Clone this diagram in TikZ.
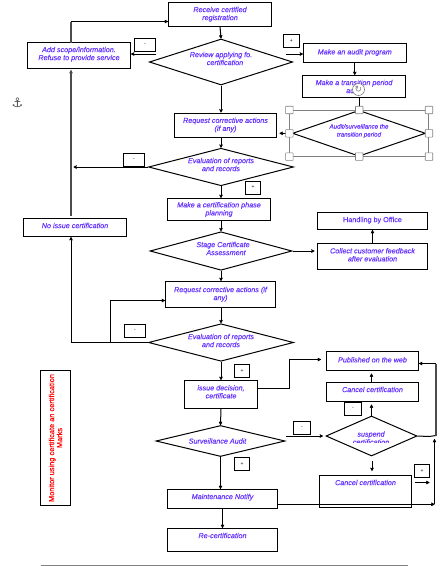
\documentclass[tikz,border=0pt]{standalone}
\usepackage{fontspec}
\setmainfont{Liberation Sans}
\newfontfamily\labelfont[RawFeature={embolden=0.15}]{Liberation Sans}
\newfontfamily\symfont{DejaVu Sans}
\usetikzlibrary{positioning,calc,arrows.meta,shapes.geometric}
\definecolor{bluetext}{HTML}{6633FF}

\begin{document}
\begin{tikzpicture}[->, >={Stealth[round,length=4.5pt,width=4.5pt]}, x=1pt, y=-1pt, line width=1pt,
  main/.style = {inner sep=0pt, align=center, text=bluetext, font=\labelfont\fontsize{7.2}{8}\selectfont\itshape},
  plain/.style = {font=\labelfont\fontsize{7.2}{8}\selectfont\upshape},
  box/.style = {main, rectangle, draw, fill=white},
  choice/.style = {main, diamond, aspect=4, draw, fill=white},
  lift/.style = {execute at end node={\rule[-#1]{0pt}{#1}}},
  sign/.style = {rectangle, draw, inner sep=0pt, minimum width=#1, minimum height=13pt, font=\fontsize{5}{5}\selectfont},
  handle/.style = {rectangle, rounded corners=.5pt, draw=gray, line width=.6pt, fill=white, inner sep=0pt, minimum size=7.5pt},
  trunk/.style = {draw=black!70, line width=1.2pt}]
\useasboundingbox (0,0) rectangle (443,566);

\node[box, minimum width=103, minimum height=23.5, lift=1.5pt] (recv) at (220,14.25) {Receive certified\\registration};
\node[choice, minimum width=128, minimum height=46, lift=7pt] (review) at (221,62) {Review applying fo.\\\hspace*{8pt}certification};
\node[box, minimum width=103, minimum height=26, lift=4pt] (addscope) at (79,55.5) {Add scope/information.\\Refuse to provide service};
\node[sign=21pt] (minusa) at (145,45) {-};
\node[sign=15.5pt] (plusa) at (291.25,41) {+};
\node[box, minimum width=103.5, minimum height=18.5, lift=2pt] (audit) at (354.75,52.75) {Make an audit program};
\node[box, minimum width=103, minimum height=22] (transition) at (354,86.5) {Make a transition period\\audit};
\node[choice, minimum width=132, minimum height=46, lift=6pt, font=\labelfont\fontsize{6.2}{8}\selectfont\itshape] (auditd) at (359,133.3) {Audit/surveillance the\\transition period};
\node[rectangle, draw=gray, line width=.6pt, minimum width=139, minimum height=46] (sel) at (359.2,133.3) {};
\node[box, minimum width=102, minimum height=24] (request) at (225.5,125) {Request corrective actions\\(if any)};
\node[choice, minimum width=145, minimum height=37.5, lift=5pt] (evala) at (221,167) {Evaluation of reports\\and records};
\node[sign=21pt] (minusb) at (134,160) {-};
\node[sign=15pt] (plusb) at (253,187.5) {+};
\node[box, minimum width=103, minimum height=22] (plan) at (219,209.5) {Make a certification phase\\planning};
\node[choice, minimum width=142, minimum height=38.5, lift=5pt] (stage) at (221,251) {\hspace*{4pt}Stage Certificate\\\hspace*{10pt}Assessment};
\node[box, minimum width=110, minimum height=17, lift=3pt, plain] (office) at (372.5,221) {Handling by Office};
\node[box, minimum width=110, minimum height=25.5, lift=3pt] (collect) at (372.5,256.25) {Collect customer feedback\\after evaluation};
\node[box, minimum width=103, minimum height=18, lift=4pt] (noissue) at (75,227.5) {No issue certification};
\node[box, minimum width=110, minimum height=26, lift=2pt] (requestb) at (220.5,294.5) {Request corrective actions (if\\any)};
\node[choice, minimum width=145, minimum height=37.5, lift=4pt] (evalb) at (221,342.5) {Evaluation of reports\\and records};
\node[sign=21pt] (minusc) at (135,331) {-};
\node[sign=15pt] (plusc) at (242,370.75) {+};
\node[box, minimum width=73, minimum height=27.5, lift=5pt] (issue) at (221,394.25) {issue decision,\\certificate};
\node[choice, minimum width=129, minimum height=31, aspect=5] (surv) at (220.5,441) {Surveillance Audit\hspace*{6pt}};
\node[sign=17pt] (minusd) at (302,428) {-};
\node[sign=15pt] (plusd) at (242,463.75) {+};
\node[choice, minimum width=91, minimum height=40] (suspend) at (371.5,436) {};
\node[box, minimum width=92, minimum height=19.5, lift=2pt] (published) at (372.5,360.75) {Published on the web};
\node[box, minimum width=92, minimum height=19, lift=5pt] (cancel) at (372.5,392) {Cancel certification};
\node[sign=17pt] (minuse) at (353,409) {-};
\node[box, minimum width=110, minimum height=19, lift=5pt] (maint) at (222.5,499) {Maintenance Notify};
\node[box, minimum width=92, minimum height=32, lift=18pt] (cancelb) at (365.5,491.5) {Cancel certification};
\node[sign=15pt] (plusf) at (422,470.75) {+};
\node[box, minimum width=110, minimum height=23, lift=9pt] (recert) at (222.5,540) {Re-certification};
\node[rectangle, draw, rotate=90, inner sep=0pt, minimum width=135, minimum height=30, align=center, text=red, font=\labelfont\fontsize{7.4}{8}\selectfont] (monitor) at (55.5,438) {Monitor using certificate an certification\\Marks};
\node[text=black!70, inner sep=0pt, font=\symfont\fontsize{13}{13}\selectfont] (anchor) at (17.5,103) {⚓};

\begin{scope}
\clip (330,425) rectangle (415,442.7);
\node[main] (suspendtxt) at (371,438) {suspend\\certification};
\end{scope}

\coordinate (addtop) at (71,42.5);
\coordinate (addbend) at (71,21.5);
\coordinate (recvin) at (168,21.5);
\coordinate (addbot) at (71,70);
\coordinate (noout) at (71,216);
\coordinate (nein) at (71,237);
\coordinate (evalout) at (73.5,167);
\coordinate (branch) at (110,342.5);
\coordinate (reqin) at (165,300.5);
\coordinate (revout) at (286,54);
\coordinate (audin) at (303,54);
\coordinate (minusout) at (156,54);
\coordinate (addin) at (131,54);
\coordinate (issout) at (257.5,388.5);
\coordinate (issbend) at (289.5,388.5);
\coordinate (publeft) at (321,359.5);
\coordinate (susa) at (429,436.5);
\coordinate (susb) at (436,435.5);
\coordinate (susc) at (436,363.5);
\coordinate (pubin) at (419,363.5);
\coordinate (mainout) at (277.5,504.3);
\coordinate (rightin) at (434.5,504.3);
\coordinate (rightup) at (434.5,439);
\coordinate (susfree) at (372,461);
\coordinate (canca) at (414.5,482.5);
\coordinate (cancb) at (429.5,482.5);

\path
    (recv.south) edge (review.north)
    (minusout) edge (addin)
    (revout) edge (audin)
    (audit.south) edge (audit.south |- transition.north)
    (review.south) edge (review.south |- request.north)
    (request.south -| evala.north) edge (evala.north)
    (evala.west) edge (evalout)
    (evala.south) edge (evala.south |- plan.north)
    (plan.south -| stage.north) edge (stage.north)
    (stage.south) edge (stage.south |- requestb.north)
    (requestb.south -| evalb.north) edge (evalb.north)
    (collect.north) edge (office.south)
    (evalb.south) edge (issue.north)
    (issue.south) edge (surv.north)
    (surv.south) edge (surv.south |- maint.north)
    (maint.south) edge (recert.north)
    (mainout) edge (rightin)
    (rightin) edge (rightup)
    (canca) edge (cancb);
\path[shorten >=2.5pt]
    (stage.east) edge (collect.west |- stage.east)
    (auditd.west) edge (request.east |- auditd.west)
    (surv.east |- suspend.west) edge (suspend.west)
    (suspend.north) edge (suspend.north |- cancel.south)
    (cancel.north -| suspend.north) edge (published.south -| suspend.north);
\path[shorten >=4pt] (susfree) edge (susfree |- cancelb.north);
\draw[trunk] (noout) -- (addbot);
\draw[-, trunk] (addtop) -- (addbend);
\draw (addbend) -- (recvin);
\draw (evalb.west) -| (nein);
\draw (branch) |- (reqin);
\draw (issout) -- (issbend) |- (publeft);
\draw[-] (suspend.east) -- (susa) -- (susb);
\draw[-, trunk] (susb) -- (susc);
\draw (susc) -- (pubin);
\path[-] (transition.south -| auditd.north) edge (auditd.north);

\node[handle] (hnw) at (sel.north west) {};
\node[handle] (hn) at (sel.north) {};
\node[handle] (hne) at (sel.north east) {};
\node[handle] (hw) at (sel.west) {};
\node[handle] (he) at (sel.east) {};
\node[handle] (hsw) at (sel.south west) {};
\node[handle] (hs) at (sel.south) {};
\node[handle] (hse) at (sel.south east) {};
\node[circle, draw=gray, line width=.6pt, fill=white, text=gray, minimum size=12pt, inner sep=0pt, font=\symfont\fontsize{9}{9}\selectfont] (rothandle) at (358.5,89.5) {↻};

\coordinate (rulea) at (41,565.5);
\coordinate (ruleb) at (408,565.5);
\draw[-, gray] (rulea) -- (ruleb);
\end{tikzpicture}
\end{document}
